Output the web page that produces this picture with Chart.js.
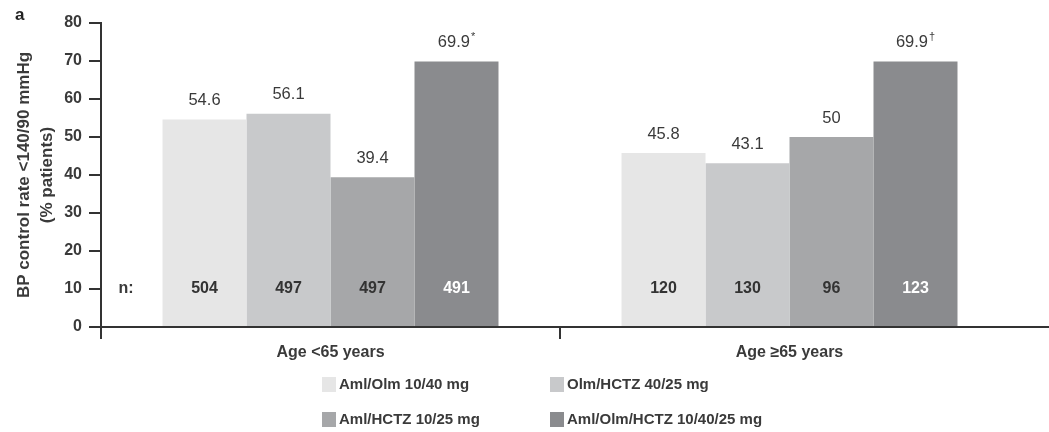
<!DOCTYPE html>
<html>
<head>
<meta charset="utf-8">
<script src="https://cdn.jsdelivr.net/npm/chart.js@4/dist/chart.umd.min.js"></script>
<style>
  html, body { margin: 0; padding: 0; background: #fff; }
  #wrap { width: 1049px; height: 432px; position: relative; }
</style>
</head>
<body>
<div id="wrap"><canvas id="c" width="1049" height="432"></canvas></div>
<script>
// Age groups on the x axis
const categories = ['Age <65 years', 'Age \u226565 years'];
// Treatment arms
const treatments = ['Aml/Olm 10/40 mg', 'Olm/HCTZ 40/25 mg', 'Aml/HCTZ 10/25 mg', 'Aml/Olm/HCTZ 10/40/25 mg'];
// BP control rate (% patients) per arm, [<65, >=65]
const amlOlm = [54.6, 45.8];
const olmHctz = [56.1, 43.1];
const amlHctz = [39.4, 50];
const amlOlmHctz = [69.9, 69.9];
// Patients per arm, [<65, >=65]
const nAmlOlm = [504, 120];
const nOlmHctz = [497, 130];
const nAmlHctz = [497, 96];
const nAmlOlmHctz = [491, 123];
// Significance marks shown after the triple-therapy values
const tripleMarks = ['*', '\u2020'];
const noMarks = ['', ''];
// Y axis ticks
const yTicks = [0, 10, 20, 30, 40, 50, 60, 70, 80];

const colors = ['#e6e6e6', '#c8c9cb', '#a6a7a9', '#8a8b8e'];
const nColors = ['#333333', '#333333', '#333333', '#ffffff'];
const TXT = '#3a3a3a';
const AX = '#333333';
const FONT = "'Liberation Sans', Arial, sans-serif";

const series = [amlOlm, olmHctz, amlHctz, amlOlmHctz];
const counts = [nAmlOlm, nOlmHctz, nAmlHctz, nAmlOlmHctz];
const marks = [noMarks, noMarks, noMarks, tripleMarks];

const datasets = treatments.map((t, i) => ({
  label: t,
  data: series[i],
  counts: counts[i],
  marks: marks[i],
  nColor: nColors[i],
  backgroundColor: colors[i],
  borderWidth: 0,
  barPercentage: 1.0,
  categoryPercentage: 0.732
}));

// Value labels above bars, n counts near the base, panel letter, legend, axis line extension
const annotate = {
  id: 'annotate',
  afterDatasetsDraw(chart) {
    const ctx = chart.ctx;
    const area = chart.chartArea;
    const yScale = chart.scales.y;
    const base = yScale.getPixelForValue(0);
    ctx.save();
    chart.data.datasets.forEach((ds, di) => {
      const meta = chart.getDatasetMeta(di);
      meta.data.forEach((bar, i) => {
        // value + optional superscript mark
        const main = String(ds.data[i]);
        const mark = ds.marks[i];
        ctx.font = '16.5px ' + FONT;
        const wMain = ctx.measureText(main).width;
        ctx.font = '11px ' + FONT;
        const wMark = mark ? ctx.measureText(mark).width + 1 : 0;
        const x0 = bar.x - (wMain + wMark) / 2;
        const ty = bar.y - 19;
        ctx.fillStyle = TXT;
        ctx.textBaseline = 'middle';
        ctx.textAlign = 'left';
        ctx.font = '16.5px ' + FONT;
        ctx.fillText(main, x0, ty);
        if (mark) {
          ctx.font = '11px ' + FONT;
          ctx.fillText(mark, x0 + wMain + 1, ty - 5);
        }
        // n count
        ctx.font = 'bold 16px ' + FONT;
        ctx.textAlign = 'center';
        ctx.fillStyle = ds.nColor;
        ctx.fillText(String(ds.counts[i]), bar.x, base - 38);
      });
    });
    ctx.font = 'bold 16px ' + FONT;
    ctx.fillStyle = TXT;
    ctx.textAlign = 'center';
    ctx.textBaseline = 'middle';
    ctx.fillText('n:', area.left + 25, base - 38);
    ctx.restore();
  },
  afterDraw(chart) {
    const ctx = chart.ctx;
    const area = chart.chartArea;
    const base = chart.scales.y.getPixelForValue(0);
    ctx.save();
    // x axis baseline carried to the right edge
    ctx.strokeStyle = AX;
    ctx.lineWidth = 2;
    ctx.beginPath();
    ctx.moveTo(area.left, base);
    ctx.lineTo(chart.width, base);
    ctx.stroke();
    // panel letter
    ctx.fillStyle = '#222';
    ctx.font = 'bold 17px ' + FONT;
    ctx.textAlign = 'left';
    ctx.textBaseline = 'middle';
    ctx.fillText('a', 15, 15);
    // legend, two columns
    const cols = [322, 550];
    const rows = [385, 420];
    ctx.font = 'bold 15px ' + FONT;
    chart.data.datasets.forEach((ds, i) => {
      const x = cols[i % 2];
      const y = rows[Math.floor(i / 2)];
      ctx.fillStyle = ds.backgroundColor;
      ctx.fillRect(x, y - 8, 14, 15);
      ctx.fillStyle = TXT;
      ctx.fillText(ds.label, x + 17, y);
    });
    ctx.restore();
  }
};

new Chart(document.getElementById('c'), {
  type: 'bar',
  data: { labels: categories, datasets },
  options: {
    responsive: false,
    animation: false,
    events: [],
    layout: { padding: { top: 23, right: 30, bottom: 0, left: 0 } },
    plugins: { legend: { display: false }, tooltip: { enabled: false } },
    scales: {
      x: {
        offset: true,
        afterFit(scale) { scale.height = 105; },
        border: { display: false },
        grid: {
          drawOnChartArea: false,
          drawTicks: true,
          tickLength: 12,
          lineWidth: 2,
          // only the lines at the left edge and between the two groups
          color: (c) => (c.type === 'tick' ? AX : 'rgba(0,0,0,0)')
        },
        ticks: { color: TXT, font: { family: FONT, size: 16, weight: 'bold' }, padding: 4 }
      },
      y: {
        min: 0,
        max: 80,
        afterFit(scale) { scale.width = 101; },
        afterBuildTicks(scale) { scale.ticks = yTicks.map(v => ({ value: v })); },
        border: { display: true, color: AX, width: 2 },
        grid: { drawOnChartArea: false, drawTicks: true, tickLength: 12, lineWidth: 2, color: AX },
        ticks: { color: TXT, font: { family: FONT, size: 16, weight: 'bold' }, padding: 7 },
        title: {
          display: true,
          text: ['BP control rate <140/90 mmHg', '(% patients)'],
          color: TXT,
          font: { family: FONT, size: 17, weight: 'bold', lineHeight: 23 / 17 },
          padding: { top: 13, bottom: 0 }
        }
      }
    }
  },
  plugins: [annotate]
});
</script>
</body>
</html>
